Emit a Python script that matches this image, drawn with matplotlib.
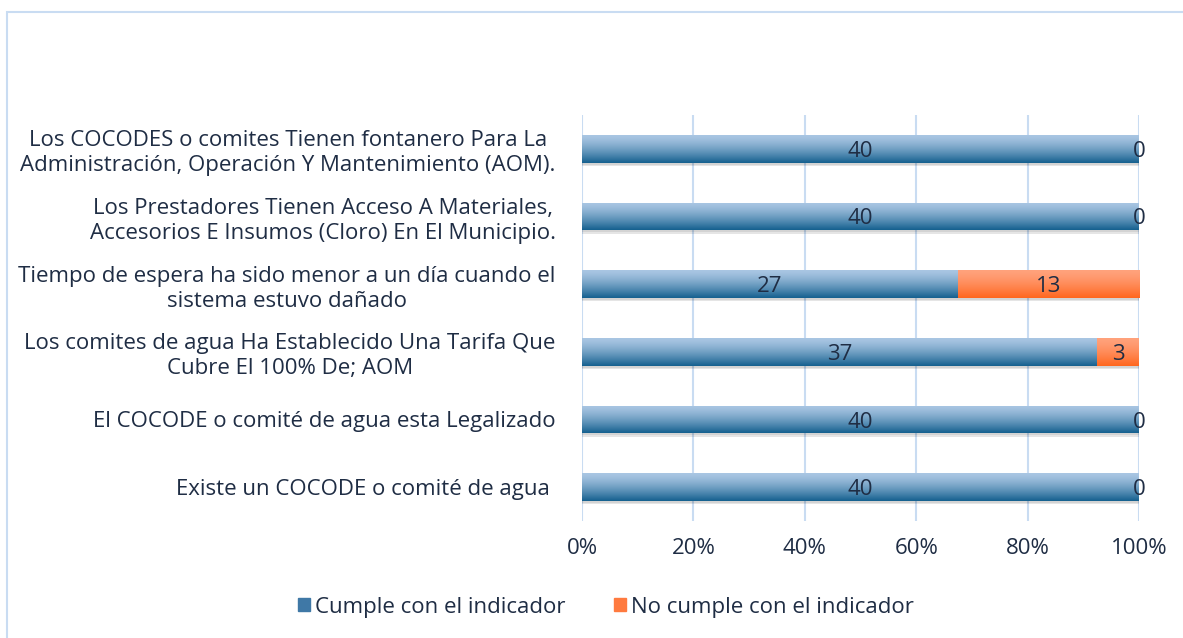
import matplotlib.pyplot as plt
import matplotlib.patches as mpatches
import numpy as np

categorias = [
    'Existe un COCODE o comité de agua ',
    'El COCODE o comité de agua esta Legalizado',
    'Los comites de agua Ha Establecido Una Tarifa Que\nCubre El 100% De; AOM',
    'Tiempo de espera ha sido menor a un día cuando el\nsistema estuvo dañado',
    'Los Prestadores Tienen Acceso A Materiales,\nAccesorios E Insumos (Cloro) En El Municipio.',
    'Los COCODES o comites Tienen fontanero Para La\nAdministración, Operación Y Mantenimiento (AOM).',
]
cumple = [40, 40, 37, 27, 40, 40]
no_cumple = [0, 0, 3, 13, 0, 0]
series = ['Cumple con el indicador', 'No cumple con el indicador']
ticks = [0, 0.2, 0.4, 0.6, 0.8, 1.0]
tick_labels = ['0%', '20%', '40%', '60%', '80%', '100%']

plt.rcParams['font.family'] = ['Open Sans', 'DejaVu Sans']
texto = '#1f2d44'
fs = 16

fig = plt.figure(figsize=(11.83, 6.38), dpi=100)
ax = fig.add_axes([582 / 1183, 1 - 521 / 638, 557 / 1183, 406 / 638])

# marco exterior
fig.patches.append(mpatches.Rectangle((7 / 1183, -0.05), 1.2, 1 - 12 / 638 + 0.05,
                                      transform=fig.transFigure, fill=False,
                                      edgecolor='#c9dcf2', linewidth=1.5))

total = np.array(cumple) + np.array(no_cumple)
p1 = np.array(cumple) / total
p2 = np.array(no_cumple) / total
y = np.arange(len(categorias))
h = 0.41

# sombra
ax.barh(y - 0.05, p1 + p2, height=h, color='#000000', alpha=0.10, zorder=1)
ax.barh(y - 0.03, p1 + p2, height=h, color='#000000', alpha=0.08, zorder=1)

b1 = ax.barh(y, p1, height=h, color='#5f8fb8', zorder=2, label=series[0])
b2 = ax.barh(y, p2, left=p1, height=h, color='#ff8050', zorder=2, label=series[1])

def degradado(bars, top, bottom):
    grad = np.linspace(0, 1, 100).reshape(-1, 1)
    c_top = np.array(plt.matplotlib.colors.to_rgb(top))
    c_bot = np.array(plt.matplotlib.colors.to_rgb(bottom))
    img = c_top + (c_bot - c_top) * grad[..., None] ** 1.4
    img = img.reshape(100, 1, 3)
    for bar in bars:
        x0, y0 = bar.get_x(), bar.get_y()
        w, hh = bar.get_width(), bar.get_height()
        if w <= 0:
            continue
        im = ax.imshow(img, extent=[x0, x0 + w, y0, y0 + hh], aspect='auto',
                       origin='upper', zorder=3, interpolation='bilinear')
        im.set_clip_path(bar)

degradado(b1, '#a9c6e3', '#14608f')
degradado(b2, '#ffa27c', '#ff661e')

for i in range(len(categorias)):
    ax.text(p1[i] / 2, y[i], str(cumple[i]), ha='center', va='center_baseline',
            fontsize=fs, color=texto, zorder=5)
    ax.text(p1[i] + p2[i] / 2, y[i], str(no_cumple[i]), ha='center', va='center_baseline',
            fontsize=fs, color=texto, zorder=5)

ax.set_xlim(0, 1)
ax.set_ylim(-0.5, len(categorias) - 0.5)
ax.set_xticks(ticks)
ax.set_xticklabels(tick_labels, fontsize=fs, color=texto)
ax.set_yticks(y)
ax.set_yticklabels(categorias, fontsize=fs, color=texto, linespacing=1.25)
for lab in ax.get_yticklabels():
    lab.set_multialignment('center')
ax.tick_params(axis='both', length=0)
ax.tick_params(axis='y', pad=19)
ax.tick_params(axis='x', pad=12)
ax.grid(axis='x', color='#c9dcf2', linewidth=1.5, zorder=0)
ax.set_axisbelow(True)
for s in ax.spines.values():
    s.set_visible(False)

leg = fig.legend(handles=[mpatches.Patch(color='#3f78a6'), mpatches.Patch(color='#ff7a3f')],
                 labels=series, loc='center', bbox_to_anchor=(606 / 1183, 1 - 607 / 638),
                 ncol=2, frameon=False, fontsize=fs, handlelength=0.55, handleheight=0.55,
                 handletextpad=0.2, columnspacing=2.2)
for t in leg.get_texts():
    t.set_color(texto)

fig.savefig('out.png', dpi=100)
